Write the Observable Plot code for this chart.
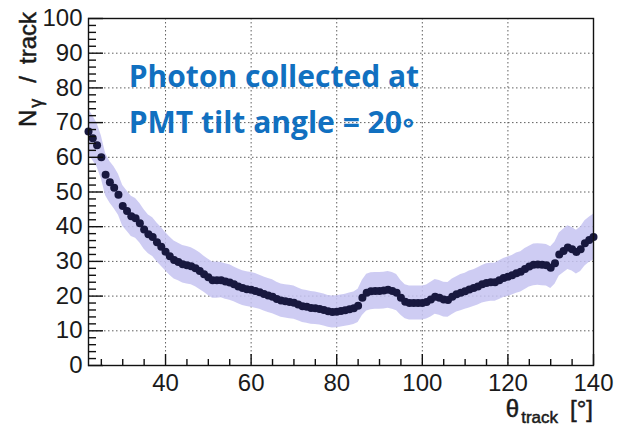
<!DOCTYPE html>
<html><head><meta charset="utf-8">
<script src="https://cdn.jsdelivr.net/npm/d3@7"></script>
<script src="https://cdn.jsdelivr.net/npm/@observablehq/plot@0.6"></script>
<style>html,body{margin:0;padding:0;background:#fff;} svg{display:block}</style>
</head><body><div id="chart"></div>
<script>
const theta = [22,23,24,25,26,27,28,29,30,
31,32,33,34,35,36,37,38,39,40,
41,42,43,44,45,46,47,48,49,50,
51,52,53,54,55,56,57,58,59,60,
61,62,63,64,65,66,67,68,69,70,
71,72,73,74,75,76,77,78,79,80,
81,82,83,84,85,86,87,88,89,90,
91,92,93,94,95,96,97,98,99,100,
101,102,103,104,105,106,107,108,109,110,
111,112,113,114,115,116,117,118,119,120,
121,122,123,124,125,126,127,128,129,130,
131,132,133,134,135,136,137,138,139,140];
const nPhotons = [67.4,65.5,63.5,60.0,55.0,52.8,51.2,49.2,46.0,
44.5,43.0,42.4,41.0,39.2,37.8,37.0,35.5,34.2,32.8,
31.5,30.4,29.8,29.2,28.9,28.6,28.0,27.2,26.3,25.4,
24.6,24.6,24.6,24.2,23.9,23.4,22.8,22.3,22.0,21.8,
21.5,21.1,20.6,20.2,19.8,19.2,18.7,18.5,18.3,18.1,
17.6,17.1,16.9,16.6,16.5,16.3,16.0,15.6,15.4,15.5,
15.7,15.9,16.2,16.5,17.2,19.5,21.0,21.4,21.5,21.5,
21.6,21.8,21.5,21.0,19.5,18.4,18.0,18.0,18.0,18.0,
18.3,19.0,19.8,19.5,19.0,18.9,19.8,20.5,21.0,21.4,
21.9,22.3,22.8,23.4,23.8,24.0,24.0,24.6,25.2,25.6,
26.0,26.6,27.0,27.8,28.5,29.0,29.1,29.0,28.9,28.2,
29.5,32.0,33.0,34.0,33.5,32.7,33.5,35.2,36.2,37.0];
const nErrors = [6.5,6.4,6.3,6.2,6.1,6.0,6.0,5.9,5.9,
5.8,5.8,5.7,5.7,5.7,5.6,5.6,5.6,5.6,5.5,
5.5,5.5,5.4,5.4,5.4,5.3,5.3,5.3,5.2,5.2,
5.2,5.2,5.1,5.1,5.1,5.0,5.0,5.0,5.0,5.0,
5.0,4.9,4.9,4.9,4.9,4.8,4.8,4.8,4.8,4.8,
4.7,4.7,4.7,4.7,4.7,4.6,4.6,4.6,4.6,4.6,
4.6,4.6,4.7,4.7,4.8,5.1,5.3,5.3,5.3,5.3,
5.3,5.3,5.3,5.2,5.0,4.9,4.9,4.9,4.9,4.9,
4.9,5.0,5.0,5.0,5.0,5.0,5.1,5.1,5.2,5.2,
5.3,5.3,5.4,5.4,5.5,5.5,5.5,5.6,5.6,5.7,
5.7,5.8,5.8,5.9,5.9,6.0,6.0,6.0,6.0,6.0,
6.1,6.2,6.3,6.3,6.3,6.3,6.4,6.5,6.5,6.6];
const xMajorTicks = [40,60,80,100,120,140];
const xMinorTicks = [25,30,35,45,50,55,65,70,75,85,90,95,105,110,115,125,130,135];
const xGrid = [40,60,80,100,120];
const yMajorTicks = [0,10,20,30,40,50,60,70,80,90,100];
const yMinorTicks = [2,4,6,8,12,14,16,18,22,24,26,28,32,34,36,38,42,44,46,48,52,54,56,58,62,64,66,68,72,74,76,78,82,84,86,88,92,94,96,98];
const yGrid = [10,20,30,40,50,60,70,80,90];
const titleLines = ["Photon collected at", "PMT tilt angle = 20\u25E6"];
const titlePos = [{x:31.4, y:83.0}, {x:31.4, y:69.8}];

const W = 617, H = 429, mL = 88, mR = 24, mT = 18, mB = 64;
const innerW = W - mL - mR, innerH = H - mT - mB;
const data = theta.map((t, i) => ({t, n: nPhotons[i], lo: nPhotons[i] - nErrors[i], hi: nPhotons[i] + nErrors[i]}));
const titles = titleLines.map((s, i) => ({s, ...titlePos[i]}));
const font = "'Liberation Sans', Arial, Helvetica, sans-serif";
const ink = "#1a1a1a";

const chart = Plot.plot({
  width: W, height: H,
  marginLeft: mL, marginRight: mR, marginTop: mT, marginBottom: mB,
  x: {domain: [22, 140]},
  y: {domain: [0, 100]},
  style: {fontFamily: font, background: "#fff", color: ink, overflow: "visible"},
  marks: [
    Plot.gridX(xGrid, {stroke: "#444", strokeOpacity: 0.85, strokeDasharray: "1.5,2.5", strokeWidth: 1}),
    Plot.gridY(yGrid, {stroke: "#444", strokeOpacity: 0.85, strokeDasharray: "1.5,2.5", strokeWidth: 1}),
    Plot.areaY(data, {x: "t", y1: "lo", y2: "hi", fill: "#c6c3f1", fillOpacity: 0.85}),
    Plot.dot(data, {x: "t", y: "n", r: 4, fill: "#18183f", stroke: null}),
    Plot.frame({stroke: "#111", strokeWidth: 1.4}),
    Plot.tickX(xMajorTicks, {x: d => d, insetTop: innerH - 11, stroke: "#111", strokeWidth: 1.4}),
    Plot.tickX(xMinorTicks, {x: d => d, insetTop: innerH - 6, stroke: "#111", strokeWidth: 1.4}),
    Plot.tickY(yMajorTicks, {y: d => d, insetRight: innerW - 15, stroke: "#111", strokeWidth: 1.4}),
    Plot.tickY(yMinorTicks, {y: d => d, insetRight: innerW - 8, stroke: "#111", strokeWidth: 1.4}),
    Plot.axisX(xMajorTicks, {tickSize: 0, tickPadding: 8, fontSize: 24, label: null, fill: ink, stroke: ink, strokeWidth: 0.5}),
    Plot.axisY(yMajorTicks, {tickSize: 0, tickPadding: 6, fontSize: 24, label: null, fill: ink, stroke: ink, strokeWidth: 0.5}),
    Plot.text(titles, {x: "x", y: "y", text: "s", textAnchor: "start", lineAnchor: "middle",
      fontSize: 30, fontWeight: "bold", fill: "#1170c0", fontFamily: "'Open Sans', Lato, sans-serif"})
  ]
});

const svg = d3.select(chart);
// y-axis title
const yt = svg.append("text")
  .attr("transform", `translate(36,127) rotate(-90)`)
  .attr("text-anchor", "start")
  .attr("font-family", font).attr("font-size", 24)
  .attr("fill", ink).attr("stroke", ink).attr("stroke-width", 0.5);
yt.append("tspan").text("N");
yt.append("tspan").attr("font-size", 18).attr("dx", 2).attr("dy", 6).text("\u03B3");
yt.append("tspan").attr("dx", 16).attr("dy", -6).text("/");
yt.append("tspan").attr("dx", 12).text("track");
// x-axis title
const xt = svg.append("text")
  .attr("transform", `translate(${W - mR},417)`)
  .attr("text-anchor", "end")
  .attr("font-family", font).attr("font-size", 24)
  .attr("fill", ink).attr("stroke", ink).attr("stroke-width", 0.5);
xt.append("tspan").text("\u03B8");
xt.append("tspan").attr("font-size", 17).attr("dx", 2).attr("dy", 6).text("track");
xt.append("tspan").attr("dx", 12).attr("dy", -6).text("[\u00B0]");

document.getElementById("chart").append(chart);
</script>
</body></html>
